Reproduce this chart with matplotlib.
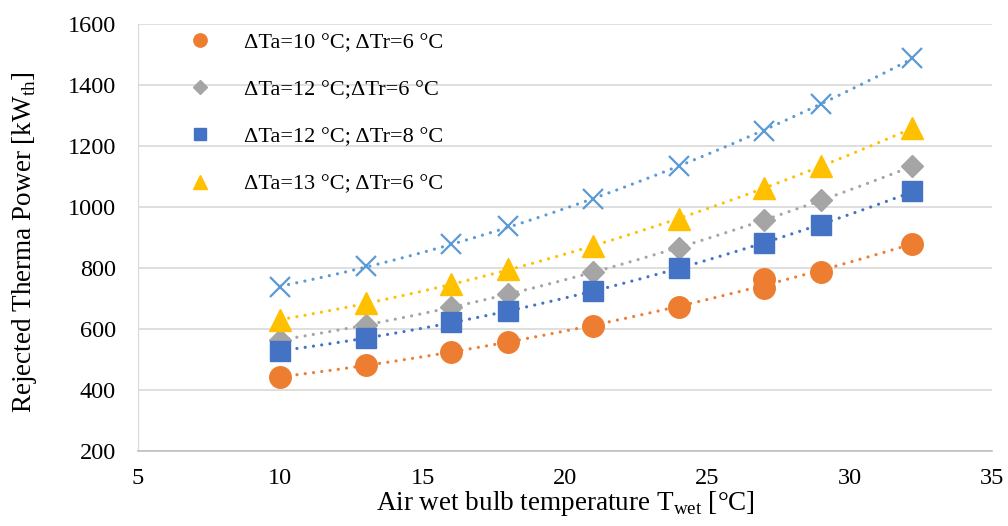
import numpy as np
import matplotlib
matplotlib.use("Agg")
import matplotlib.pyplot as plt

plt.rcParams['font.family'] = ['Liberation Serif', 'DejaVu Serif']

t_wet = [10, 13, 16, 18, 21, 24, 27, 29, 32.2]
t_wet_orange = [10, 13, 16, 18, 21, 24, 27, 27, 29, 32.2]

p_a10_r6 = [443, 482, 525, 557, 610, 672, 764, 734, 787, 879]
p_a12_r6 = [564, 613, 672, 715, 787, 866, 957, 1023, 1134]
p_a12_r8 = [528, 570, 623, 659, 725, 800, 882, 941, 1052]
p_a13_r6 = [629, 685, 748, 797, 872, 960, 1062, 1134, 1260]
p_extra = [737, 806, 879, 938, 1026, 1134, 1249, 1338, 1490]

labels = ["\u0394Ta=10 \u00b0C; \u0394Tr=6 \u00b0C",
          "\u0394Ta=12 \u00b0C;\u0394Tr=6 \u00b0C",
          "\u0394Ta=12 \u00b0C; \u0394Tr=8 \u00b0C",
          "\u0394Ta=13 \u00b0C; \u0394Tr=6 \u00b0C"]

fig = plt.figure(figsize=(10.08, 5.26), dpi=100)
ax = fig.add_axes([0.137, 0.1426, 0.847, 0.8114])

series = [
    (t_wet_orange, p_a10_r6, '#ED7D31', 'o', 15.5, labels[0]),
    (t_wet, p_a12_r6, '#A5A5A5', 'D', 11, labels[1]),
    (t_wet, p_a12_r8, '#4472C4', 's', 14.5, labels[2]),
    (t_wet, p_a13_r6, '#FFC000', '^', 15.5, labels[3]),
    (t_wet, p_extra, '#5B9BD5', 'x', 15, None),
]

handles = []
for xs, ys, c, m, ms, lab in series:
    xs = np.array(xs, dtype=float)
    ys = np.array(ys, dtype=float)
    coef = np.polyfit(xs, ys, 2)
    xx = np.linspace(xs.min(), xs.max(), 200)
    ax.plot(xx, np.polyval(coef, xx), color=c, lw=2.3,
            linestyle=(0, (0.01, 2.6)), dash_capstyle='round', zorder=2)
    if m == 'x':
        ax.plot(xs, ys, linestyle='none', marker=m, ms=ms, mew=1.6,
                color=c, zorder=3)
    else:
        h, = ax.plot(xs, ys, linestyle='none', marker=m, ms=ms, color=c,
                     mec=c, zorder=3, label=lab)
        handles.append(h)

ax.set_xlim(5, 35)
ax.set_ylim(200, 1600)
ax.set_xticks(range(5, 36, 5))
ax.set_yticks(range(200, 1601, 200))
ax.tick_params(length=0, labelsize=17.5, colors='black')
ax.tick_params(axis='x', pad=12)
ax.tick_params(axis='y', pad=16)
ax.grid(axis='y', color='#D9D9D9', lw=1.2)
ax.set_axisbelow(True)
for s in ['top', 'right']:
    ax.spines[s].set_visible(False)
ax.spines['left'].set_color('#D9D9D9')
ax.spines['bottom'].set_color('#BFBFBF')
ax.spines['bottom'].set_linewidth(1.2)

ax.set_xlabel("Air wet bulb temperature T$_{\\mathregular{wet}}$ [\u00b0C]",
              fontsize=19.5)
ax.set_ylabel("Rejected Therma Power [kW$_{\\mathregular{th}}$]",
              fontsize=19.5)
ax.xaxis.set_label_coords(0.5, -0.089)
ax.yaxis.set_label_coords(-0.116, 0.49)

leg = ax.legend(handles=handles, loc='upper left', bbox_to_anchor=(0.034, 1.028),
                frameon=False, fontsize=16, markerscale=0.62,
                labelspacing=1.2, handletextpad=1.38, handlelength=1.2)

fig.savefig("out.png", dpi=100)
